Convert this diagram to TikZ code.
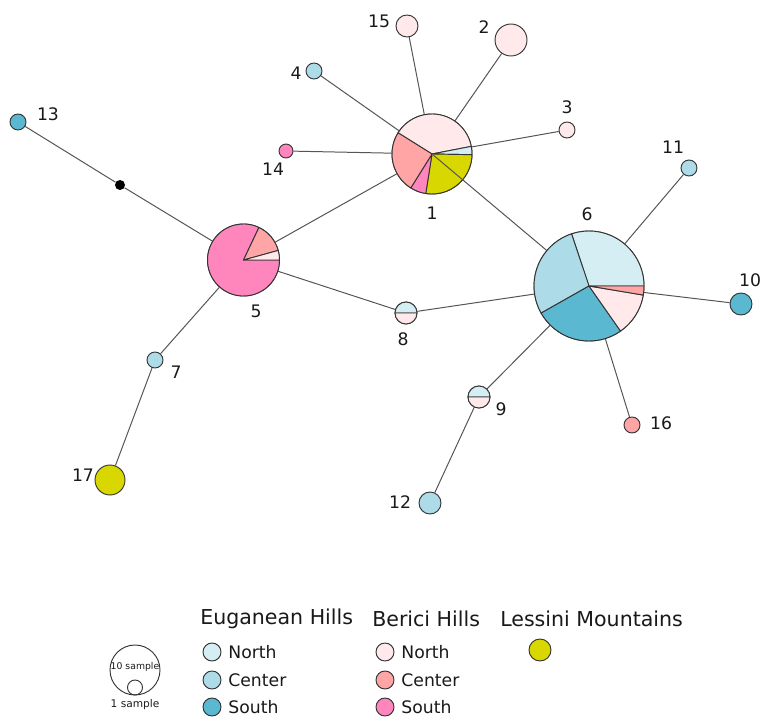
\documentclass[tikz,border=0pt]{standalone}
\usepackage{fontspec}
\setmainfont{DejaVu Sans}
\usetikzlibrary{positioning}
\definecolor{eugN} {HTML}{D5EEF3}
\definecolor{eugC} {HTML}{ADDBE7}
\definecolor{eugS} {HTML}{5AB8D1}
\definecolor{berN} {HTML}{FFE9EB}
\definecolor{berC} {HTML}{FFA5A5}
\definecolor{berS} {HTML}{FF85BD}
\definecolor{lessY}{HTML}{D8D800}
\definecolor{bord} {HTML}{333333}
\definecolor{edgeG}{HTML}{555555}
\newcommand{\pieslice}[5]{%
  \filldraw[slice, fill=#5] (#1.center) -- ++(#3:#2)
    arc[start angle=#3, end angle=#4, radius=#2] -- cycle;}

\begin{document}
\begin{tikzpicture}[x=0.0265cm,y=0.0265cm,
    hap/.style={circle, draw=bord, line width=0.7pt, inner sep=0pt, minimum size=2*#1*0.0265cm},
    slice/.style={draw=bord, line width=0.7pt, line join=round},
    edge/.style={draw=edgeG, line width=0.75pt},
    lab/.style={font=\fontsize{13}{15}\selectfont, text=black!90},
    legtxt/.style={font=\fontsize{13}{15}\selectfont, text=black!90, inner sep=1pt},
    leghead/.style={font=\fontsize{15.5}{18}\selectfont, text=black!90, anchor=west, inner sep=0pt}]
  \useasboundingbox (0,0) rectangle (763,720);
  % haplotypes
  \node[hap=40] (n1) at (432,566) {};
  \node[hap=16, fill=berN] (n2) at (511,680) {};
  \node[hap=8, fill=berN] (n3) at (567,590) {};
  \node[hap=8, fill=eugC] (n4) at (314,649) {};
  \node[hap=36] (n5) at (243.5,460) {};
  \node[hap=55] (n6) at (589,434) {};
  \node[hap=8, fill=eugC] (n7) at (155,360) {};
  \node[hap=11] (n8) at (406,407) {};
  \node[hap=11] (n9) at (479,323) {};
  \node[hap=11, fill=eugS] (n10) at (741,416) {};
  \node[hap=8, fill=eugC] (n11) at (689,552) {};
  \node[hap=11, fill=eugC] (n12) at (430,217) {};
  \node[hap=8, fill=eugS] (n13) at (18,598) {};
  \node[hap=7, fill=berS] (n14) at (286,569) {};
  \node[hap=11, fill=berN] (n15) at (407,694) {};
  \node[hap=8, fill=berC] (n16) at (632,295) {};
  \node[hap=15, fill=lessY] (n17) at (110,240) {};
  \node[circle, fill=black, inner sep=0pt, minimum size=10*0.0265cm] (mv) at (120,535) {};
  % links
  \foreach \a/\b in {n1/n15, n1/n2, n1/n4, n1/n3, n1/n14, n1/n5, n13/mv, mv/n5,
                     n5/n8, n8/n6, n5/n7, n7/n17, n6/n11, n6/n10, n6/n16, n6/n9, n9/n12}
    \draw[edge] (\a) -- (\b);
  % pies
  \pieslice{n1}{40}{11}{148}{berN}
  \pieslice{n1}{40}{-1}{11}{eugN}
  \pieslice{n1}{40}{-99}{-1}{lessY}
  \pieslice{n1}{40}{-122}{-99}{berS}
  \pieslice{n1}{40}{148}{238}{berC}
  \draw[edge] (n1.center) -- (n6);
  \pieslice{n6}{55}{0}{108.5}{eugN}
  \pieslice{n6}{55}{108.5}{209.5}{eugC}
  \pieslice{n6}{55}{209.5}{305}{eugS}
  \pieslice{n6}{55}{305}{350.5}{berN}
  \pieslice{n6}{55}{350.5}{360}{berC}
  \pieslice{n5}{36}{64.6}{360}{berS}
  \pieslice{n5}{36}{15.4}{64.6}{berC}
  \pieslice{n5}{36}{0}{15.4}{berN}
  \foreach \h in {n8,n9}{
    \pieslice{\h}{11}{0}{180}{eugN}
    \pieslice{\h}{11}{180}{360}{berN}
  }
  % labels
  \foreach \t/\x/\y in {15/379/699, 2/484/693, 4/296/647, 3/567/613, 13/48/606, 14/273/551,
                        1/432/507, 6/587/506, 11/673/573, 10/750/440, 5/256/409, 8/403/381,
                        7/176/348, 9/501/311, 16/661/297, 17/83/245, 12/400/218}
    \node[lab] (l\t) at (\x,\y) {\t};
  % legend
  \node[leghead] (hEug) at (200,101) {Euganean Hills};
  \node[leghead] (hBer) at (372,101) {Berici Hills};
  \node[leghead] (hLes) at (500,101) {Lessini Mountains};
  \foreach \yy/\cc/\nm in {68/eugN/North, 40/eugC/Center, 13/eugS/South}{
    \node[hap=9, fill=\cc] (e\nm) at (212,\yy) {};
    \node[legtxt, right=4pt of e\nm] (te\nm) {\nm};
  }
  \foreach \yy/\cc/\nm in {68/berN/North, 40/berC/Center, 13/berS/South}{
    \node[hap=9, fill=\cc] (b\nm) at (385,\yy) {};
    \node[legtxt, right=4pt of b\nm] (tb\nm) {\nm};
  }
  \node[hap=11, fill=lessY] (lLes) at (540,70) {};
  \node[hap=25] (big) at (135,50) {};
  \node[hap=7.5] (small) at (135,32.5) {};
  \node[font=\fontsize{7}{8}\selectfont, text=black!90, inner sep=0pt] (tbig) at (135,53) {10 sample};
  \node[font=\fontsize{8}{9}\selectfont, text=black!90, inner sep=0pt] (tsmall) at (135,15) {1 sample};
\end{tikzpicture}
\end{document}
